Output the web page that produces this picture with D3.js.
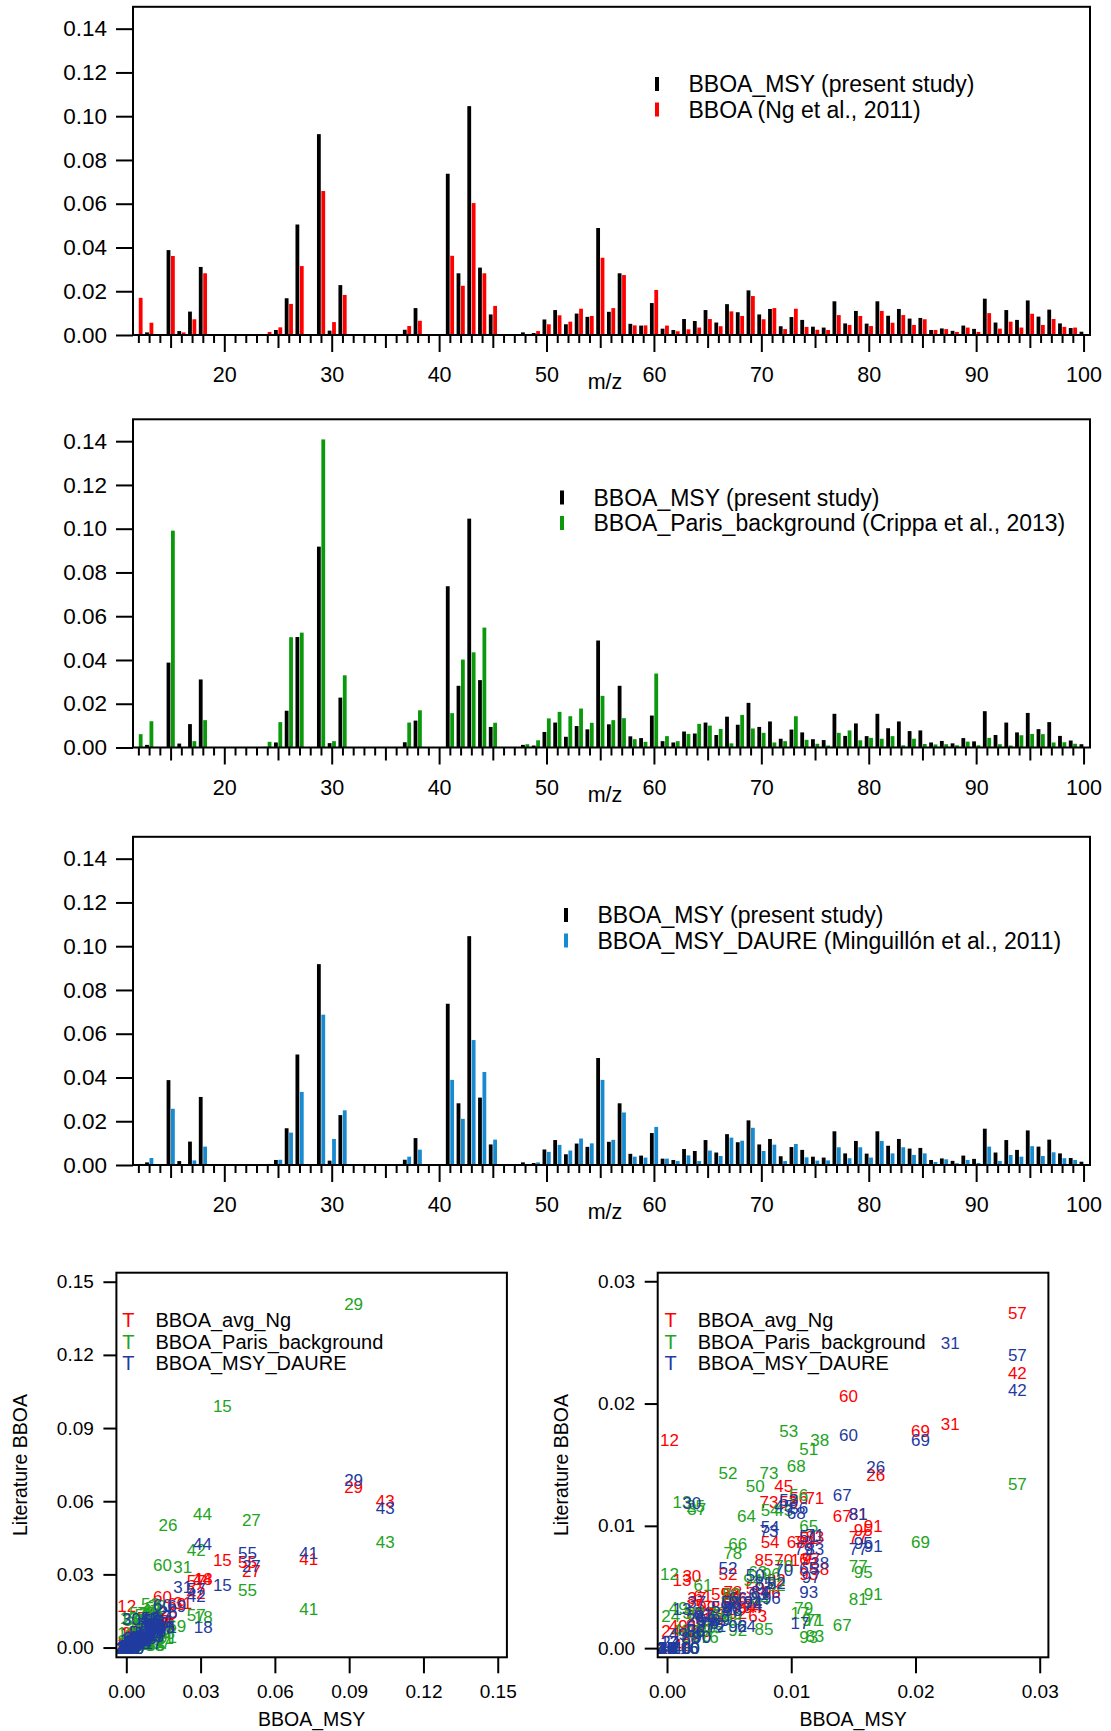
<!DOCTYPE html>
<html>
<head>
<meta charset="utf-8">
<script src="https://cdn.jsdelivr.net/npm/d3@7"></script>
<style>
  body { margin: 0; background: #fff; }
  svg { display: block; }
</style>
</head>
<body>
<svg id="chart" width="1111" height="1731"></svg>
<script>
// m/z categories
const MZ = [12, 13, 14, 15, 16, 17, 18, 19, 20, 21,
  22, 23, 24, 25, 26, 27, 28, 29, 30, 31,
  32, 33, 34, 35, 36, 37, 38, 39, 40, 41,
  42, 43, 44, 45, 46, 47, 48, 49, 50, 51,
  52, 53, 54, 55, 56, 57, 58, 59, 60, 61,
  62, 63, 64, 65, 66, 67, 68, 69, 70, 71,
  72, 73, 74, 75, 76, 77, 78, 79, 80, 81,
  82, 83, 84, 85, 86, 87, 88, 89, 90, 91,
  92, 93, 94, 95, 96, 97, 98, 99, 100];

// BBOA_MSY (present study)
const BBOA_MSY = [0.0002, 0.0012, 0, 0.0388, 0.0018, 0.0107, 0.0311, 0, 0, 0,
  0, 0, 0.0003, 0.0023, 0.0168, 0.0505, 0, 0.0918, 0.0020, 0.0228,
  0, 0, 0, 0, 0, 0.0024, 0.0123, 0, 0, 0.0737,
  0.0282, 0.1046, 0.0308, 0.0094, 0, 0, 0.0012, 0.0009, 0.0071, 0.0114,
  0.0049, 0.0098, 0.0083, 0.0489, 0.0106, 0.0282, 0.0051, 0.0043, 0.0146, 0.0029,
  0.0023, 0.0073, 0.0064, 0.0114, 0.0057, 0.0141, 0.0104, 0.0204, 0.0094, 0.0119,
  0.0040, 0.0082, 0.0069, 0.0038, 0.0034, 0.0154, 0.0053, 0.0110, 0.0052, 0.0154,
  0.0088, 0.0119, 0.0075, 0.0078, 0.0023, 0.0030, 0.0019, 0.0043, 0.0028, 0.0166,
  0.0057, 0.0114, 0.0069, 0.0158, 0.0084, 0.0116, 0.0053, 0.0032, 0.0015];

// BBOA (Ng et al., 2011)
const BBOA_NG = [0.0170, 0.0056, 0, 0.0361, 0.0012, 0.0072, 0.0282, 0, 0, 0,
  0, 0, 0.0014, 0.0035, 0.0142, 0.0315, 0, 0.0658, 0.0059, 0.0183,
  0, 0, 0, 0, 0, 0.0041, 0.0065, 0, 0, 0.0362,
  0.0225, 0.0603, 0.0282, 0.0133, 0, 0, 0.0003, 0.0018, 0.0049, 0.0090,
  0.0061, 0.0120, 0.0087, 0.0353, 0.0123, 0.0274, 0.0044, 0.0044, 0.0206, 0.0043,
  0.0017, 0.0026, 0.0034, 0.0073, 0.0040, 0.0108, 0.0087, 0.0178, 0.0072, 0.0123,
  0.0027, 0.0120, 0.0037, 0.0024, 0.0023, 0.0091, 0.0046, 0.0087, 0.0041, 0.0110,
  0.0056, 0.0091, 0.0046, 0.0072, 0.0023, 0.0027, 0.0014, 0.0034, 0.0014, 0.0100,
  0.0029, 0.0061, 0.0034, 0.0097, 0.0046, 0.0073, 0.0037, 0.0034, 0];

// BBOA_Paris_background (Crippa et al., 2013)
const BBOA_PARIS = [0.0061, 0.0120, 0, 0.0991, 0, 0.0029, 0.0125, 0, 0, 0,
  0, 0, 0.0026, 0.0116, 0.0504, 0.0525, 0, 0.1408, 0.0029, 0.0330,
  0, 0, 0, 0, 0, 0.0114, 0.0170, 0, 0, 0.0157,
  0.0402, 0.0435, 0.0548, 0.0113, 0, 0, 0.0015, 0.0033, 0.0133, 0.0163,
  0.0143, 0.0178, 0.0113, 0.0236, 0.0125, 0.0134, 0.0038, 0.0026, 0.0338, 0.0052,
  0.0029, 0.0062, 0.0108, 0.0100, 0.0085, 0.0019, 0.0149, 0.0087, 0.0067, 0.0023,
  0.0029, 0.0143, 0.0035, 0.0017, 0.0009, 0.0067, 0.0078, 0.0033, 0.0044, 0.0040,
  0.0052, 0.0010, 0.0040, 0.0016, 0.0014, 0.0015, 0.0010, 0.0027, 0.0010, 0.0044,
  0.0015, 0.0009, 0.0056, 0.0062, 0.0061, 0.0023, 0.0024, 0.0017, 0];

// BBOA_MSY_DAURE (Minguillón et al., 2011)
const BBOA_DAURE = [0.0005, 0.0032, 0, 0.0257, 0, 0.0021, 0.0084, 0, 0, 0,
  0, 0, 0.0005, 0.0024, 0.0148, 0.0334, 0, 0.0687, 0.0119, 0.0250,
  0, 0, 0, 0, 0, 0.0038, 0.0070, 0, 0, 0.0389,
  0.0211, 0.0571, 0.0425, 0.0116, 0, 0, 0, 0.0012, 0.0060, 0.0092,
  0.0066, 0.0121, 0.0099, 0.0389, 0.0115, 0.0240, 0.0038, 0.0034, 0.0174, 0.0029,
  0.0018, 0.0044, 0.0018, 0.0066, 0.0041, 0.0125, 0.0111, 0.0170, 0.0064, 0.0093,
  0.0018, 0.0096, 0.0035, 0.0020, 0.0021, 0.0081, 0.0031, 0.0081, 0.0034, 0.0110,
  0.0053, 0.0081, 0.0046, 0.0053, 0.0014, 0.0026, 0.0008, 0.0023, 0.0009, 0.0084,
  0.0018, 0.0046, 0.0038, 0.0086, 0.0041, 0.0058, 0.0031, 0.0023, 0];

// tick labels
const Y_TICKS = [0, 0.02, 0.04, 0.06, 0.08, 0.10, 0.12, 0.14];
const X_LABELS = [20, 30, 40, 50, 60, 70, 80, 90, 100];
const SC_TICKS_FULL = [0, 0.03, 0.06, 0.09, 0.12, 0.15];
const SC_TICKS_ZOOM = [0, 0.01, 0.02, 0.03];

const FONT = "'Liberation Sans', Arial, Helvetica, sans-serif";
const SVG = d3.select('#chart');

// ---------- spectra panels ----------
const X_SCALE = d3.scaleLinear()
  .domain([11.5, 100.6])
  .range([133, 1090]);

const PANELS = [
  { base: 335, values: BBOA_NG, color: '#ff0000', legendX: 657, legendY: 84,
    label: 'BBOA (Ng et al., 2011)' },
  { base: 747.5, values: BBOA_PARIS, color: '#0a990a', legendX: 562, legendY: 497.5,
    label: 'BBOA_Paris_background (Crippa et al., 2013)' },
  { base: 1165, values: BBOA_DAURE, color: '#178ad0', legendX: 566, legendY: 915,
    label: 'BBOA_MSY_DAURE (Minguillón et al., 2011)' }
];

PANELS.forEach(p => {
  const Y_SCALE = d3.scaleLinear()
    .domain([0, 0.15])
    .range([p.base, p.base - 328.2]);
  const G = SVG.append('g');

  // bars: present study left of the tick, literature right of it
  G.append('g').selectAll('rect')
    .data(MZ)
    .join('rect')
    .attr('x', d => X_SCALE(d) - 4)
    .attr('y', (d, i) => Y_SCALE(BBOA_MSY[i]))
    .attr('width', 3.8)
    .attr('height', (d, i) => p.base - Y_SCALE(BBOA_MSY[i]))
    .style('fill', '#000');

  G.append('g').selectAll('rect')
    .data(MZ)
    .join('rect')
    .attr('x', d => X_SCALE(d) + 0.4)
    .attr('y', (d, i) => Y_SCALE(p.values[i]))
    .attr('width', 3.8)
    .attr('height', (d, i) => p.base - Y_SCALE(p.values[i]))
    .style('fill', p.color);

  // frame
  G.append('rect')
    .attr('x', X_SCALE.range()[0])
    .attr('y', Y_SCALE(0.15))
    .attr('width', X_SCALE.range()[1] - X_SCALE.range()[0])
    .attr('height', p.base - Y_SCALE(0.15))
    .style('fill', 'none')
    .style('stroke', '#000')
    .style('stroke-width', 2);

  // y axis
  const Y_AXIS_G = G.append('g')
    .attr('transform', `translate(${X_SCALE.range()[0]},0)`)
    .call(d3.axisLeft(Y_SCALE).tickValues(Y_TICKS).tickSize(17).tickPadding(9)
      .tickFormat(d3.format('.2f')))
    .attr('font-family', FONT)
    .attr('font-size', 22.5);
  Y_AXIS_G.select('.domain').remove();
  Y_AXIS_G.selectAll('line').attr('stroke-width', 2);

  // x axis ticks (every m/z, longer each 5 and 10)
  const X_TICK_G = G.append('g')
    .attr('transform', `translate(0,${p.base})`)
    .call(d3.axisBottom(X_SCALE).tickValues(MZ).tickSize(8).tickFormat(''));
  X_TICK_G.select('.domain').remove();
  X_TICK_G.selectAll('line')
    .attr('y2', d => d % 10 === 0 ? 17 : (d % 5 === 0 ? 13 : 8))
    .attr('stroke-width', 2);

  const X_LAB_G = G.append('g')
    .attr('transform', `translate(0,${p.base})`)
    .call(d3.axisBottom(X_SCALE).tickValues(X_LABELS).tickSize(0).tickPadding(32))
    .attr('font-family', FONT)
    .attr('font-size', 21.5);
  X_LAB_G.select('.domain').remove();

  G.append('text')
    .attr('x', 605)
    .attr('y', p.base + 54)
    .attr('text-anchor', 'middle')
    .style('font-family', FONT)
    .style('font-size', '21.5px')
    .text('m/z');

  // legend
  [['#000', 'BBOA_MSY (present study)'], [p.color, p.label]].forEach((row, i) => {
    const cy = p.legendY + i * 25.5;
    G.append('rect')
      .attr('x', p.legendX - 2)
      .attr('y', cy - 7)
      .attr('width', 4)
      .attr('height', 14)
      .style('fill', row[0]);
    G.append('text')
      .attr('x', p.legendX + 31.5)
      .attr('y', cy + 8)
      .style('font-family', FONT)
      .style('font-size', '23px')
      .text(row[1]);
  });
});

// ---------- scatter plots ----------
const SC_TOP = 1272.7;
const SC_BOTTOM = 1657.3;
const SC_SERIES = [
  { values: BBOA_NG, color: '#ff0000', name: 'BBOA_avg_Ng' },
  { values: BBOA_PARIS, color: '#22a322', name: 'BBOA_Paris_background' },
  { values: BBOA_DAURE, color: '#1f3b9f', name: 'BBOA_MSY_DAURE' }
];
const SCATTERS = [
  { id: 'clipFull', left: 116.4, right: 506.9, domain: [-0.004, 0.1537],
    ticks: SC_TICKS_FULL, legendX: 128.4, titleX: 27 },
  { id: 'clipZoom', left: 657.7, right: 1048.4, domain: [-0.00075, 0.0307],
    ticks: SC_TICKS_ZOOM, legendX: 670.7, titleX: 568 }
];

SCATTERS.forEach(s => {
  const X = d3.scaleLinear().domain(s.domain).range([s.left, s.right]);
  const Y = d3.scaleLinear().domain(s.domain).range([SC_BOTTOM, SC_TOP]);
  const inside = v => v >= s.domain[0] && v <= s.domain[1];
  const G = SVG.append('g');

  G.append('clipPath')
    .attr('id', s.id)
    .append('rect')
    .attr('x', s.left)
    .attr('y', SC_TOP)
    .attr('width', s.right - s.left)
    .attr('height', SC_BOTTOM - SC_TOP);

  // m/z numbers used as markers; points off the axis range are not drawn
  const PTS = G.append('g').attr('clip-path', `url(#${s.id})`);
  SC_SERIES.forEach(ser => {
    const pts = MZ.map((m, i) => ({ m: m, x: BBOA_MSY[i], y: ser.values[i] }))
      .filter(d => inside(d.x) && inside(d.y));
    PTS.append('g').selectAll('text')
      .data(pts)
      .join('text')
      .attr('x', d => X(d.x))
      .attr('y', d => Y(d.y))
      .attr('dy', '0.36em')
      .attr('text-anchor', 'middle')
      .style('font-family', FONT)
      .style('font-size', '17px')
      .style('fill', ser.color)
      .text(d => d.m);
  });

  G.append('rect')
    .attr('x', s.left)
    .attr('y', SC_TOP)
    .attr('width', s.right - s.left)
    .attr('height', SC_BOTTOM - SC_TOP)
    .style('fill', 'none')
    .style('stroke', '#000')
    .style('stroke-width', 2);

  const YA = G.append('g')
    .attr('transform', `translate(${s.left},0)`)
    .call(d3.axisLeft(Y).tickValues(s.ticks).tickSize(13).tickPadding(9.6)
      .tickFormat(d3.format('.2f')))
    .attr('font-family', FONT)
    .attr('font-size', 19);
  YA.select('.domain').remove();
  YA.selectAll('line').attr('stroke-width', 2);

  const XA = G.append('g')
    .attr('transform', `translate(0,${SC_BOTTOM})`)
    .call(d3.axisBottom(X).tickValues(s.ticks).tickSize(16).tickPadding(11.7)
      .tickFormat(d3.format('.2f')))
    .attr('font-family', FONT)
    .attr('font-size', 19);
  XA.select('.domain').remove();
  XA.selectAll('line').attr('stroke-width', 2);

  G.append('text')
    .attr('x', (s.left + s.right) / 2)
    .attr('y', 1725.5)
    .attr('text-anchor', 'middle')
    .style('font-family', FONT)
    .style('font-size', '19.5px')
    .text('BBOA_MSY');

  G.append('text')
    .attr('transform', `translate(${s.titleX},1465) rotate(-90)`)
    .attr('text-anchor', 'middle')
    .style('font-family', FONT)
    .style('font-size', '19.5px')
    .text('Literature BBOA');

  // legend
  SC_SERIES.forEach((ser, i) => {
    const cy = 1320 + i * 21.7;
    G.append('text')
      .attr('x', s.legendX)
      .attr('y', cy + 7)
      .attr('text-anchor', 'middle')
      .style('font-family', FONT)
      .style('font-size', '20px')
      .style('fill', ser.color)
      .text('T');
    G.append('text')
      .attr('x', s.legendX + 27)
      .attr('y', cy + 7)
      .style('font-family', FONT)
      .style('font-size', '20px')
      .text(ser.name);
  });
});
</script>
</body>
</html>
